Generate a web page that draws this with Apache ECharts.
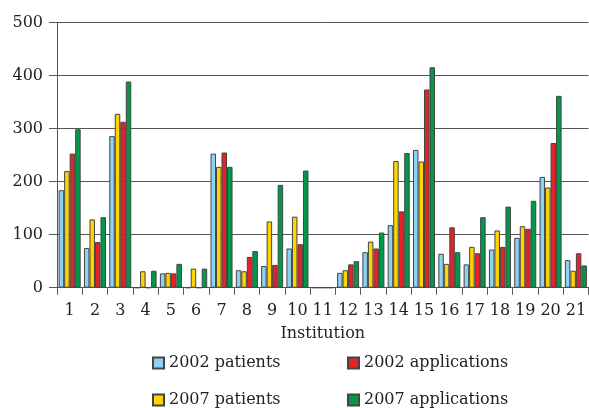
<!DOCTYPE html>
<html>
<head>
<meta charset="utf-8">
<script src="https://cdn.jsdelivr.net/npm/echarts@6/dist/echarts.min.js"></script>
<style>
html,body{margin:0;padding:0;background:#fff;}
#chart{width:589px;height:408px;}
</style>
</head>
<body>
<div id="chart"></div>
<script>
var categories = ['1','2','3','4','5','6','7','8','9','10','11','12','13','14','15','16','17','18','19','20','21'];
var patients2002     = [184, 75, 286, 0, 27, 0, 253, 33, 41, 74, 0, 28, 67, 118, 260, 64, 44, 72, 94, 209, 52];
var patients2007     = [220, 129, 328, 31, 28, 36, 228, 31, 125, 134, 0, 33, 87, 239, 238, 45, 77, 108, 116, 189, 32];
var applications2002 = [253, 86, 313, 0, 27, 0, 255, 58, 43, 82, 0, 44, 74, 144, 374, 114, 65, 77, 111, 273, 65];
var applications2007 = [299, 133, 389, 32, 45, 36, 228, 69, 194, 221, 0, 50, 104, 254, 416, 67, 133, 153, 164, 362, 42];
var yTicks = [0, 100, 200, 300, 400, 500];
var seriesNames = ['2002 patients', '2007 patients', '2002 applications', '2007 applications'];

var FONT = 'DejaVu Serif';
var AXIS = '#555555';
function mk(name, data, color) {
  return {
    name: name, type: 'bar', data: data,
    barGap: '0%', barCategoryGap: '13%',
    itemStyle: { color: color, borderColor: '#444', borderWidth: 1 }
  };
}
function lg(name, left, top) {
  return { data: [name], left: left, top: top, orient: 'horizontal', padding: 0,
    itemWidth: 11, itemHeight: 11, itemGap: 0, icon: 'rect',
    textStyle: { fontFamily: FONT, fontSize: 16, color: '#222' } };
}
var chart = echarts.init(document.getElementById('chart'), null, {renderer: 'canvas'});
chart.setOption({
  animation: false,
  backgroundColor: '#ffffff',
  grid: { left: 57, top: 22.7, width: 534, height: 265, containLabel: false },
  legend: [
    lg(seriesNames[0], 152, 355),
    lg(seriesNames[2], 347, 355),
    lg(seriesNames[1], 152, 392),
    lg(seriesNames[3], 347, 392)
  ],
  xAxis: {
    type: 'category', data: categories, boundaryGap: true,
    name: 'Institution', nameLocation: 'middle', nameGap: 38,
    nameTextStyle: { fontFamily: FONT, fontSize: 16, color: '#222' },
    axisLine: { lineStyle: { color: AXIS, width: 1 } },
    axisTick: { show: true, length: 7, alignWithLabel: false, lineStyle: { color: AXIS } },
    axisLabel: { fontFamily: FONT, fontSize: 16, color: '#222', margin: 15, interval: 0 }
  },
  yAxis: {
    type: 'value', min: yTicks[0], max: yTicks[yTicks.length - 1], interval: 100,
    axisLine: { show: true, lineStyle: { color: AXIS, width: 1 } },
    axisTick: { show: true, length: 8, lineStyle: { color: AXIS } },
    axisLabel: { fontFamily: FONT, fontSize: 16, color: '#222', margin: 14 },
    splitLine: { show: true, lineStyle: { color: AXIS, width: 1 } }
  },
  series: [
    mk(seriesNames[0], patients2002, '#8dd2f2'),
    mk(seriesNames[1], patients2007, '#ffd400'),
    mk(seriesNames[2], applications2002, '#e52228'),
    mk(seriesNames[3], applications2007, '#00994a')
  ]
});
</script>
</body>
</html>
